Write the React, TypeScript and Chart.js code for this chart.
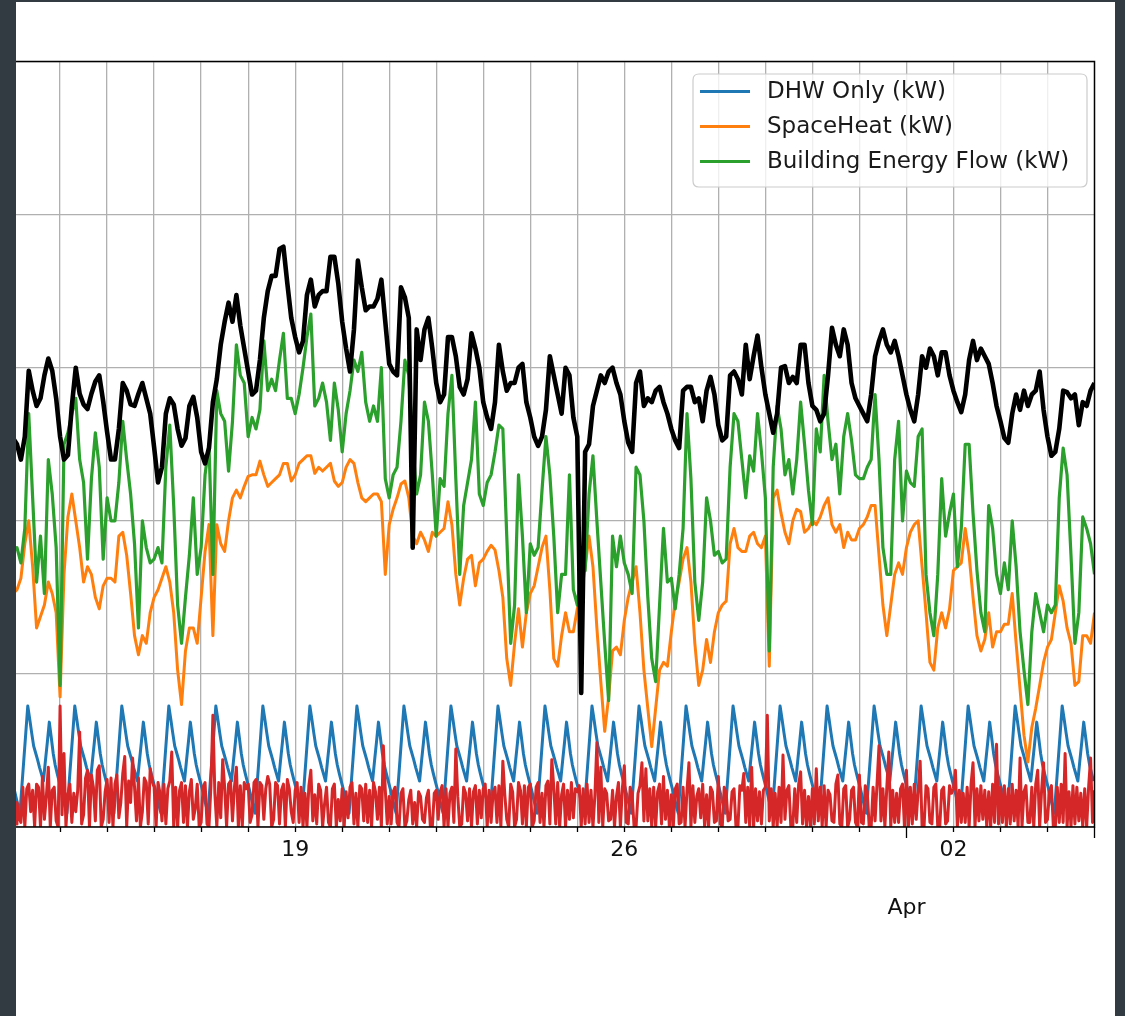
import { useEffect, useRef } from "react";
import { Chart, registerables } from "chart.js";

Chart.register(...registerables);

// ---- x axis (hours since 13 Mar 00:00) ----
const X_MIN = 1.5;
const X_MAX = 552;
const dayTickHours = [24, 48, 72, 96, 120, 144, 168, 192, 216, 240, 264, 288, 312, 336, 360, 384, 408, 432, 456, 480, 504, 528];
const weekTickHours = [144, 312, 480];
const weekTickLabels = ["19", "26", "02"];
const monthTickHours = [456];
const monthTickLabels = ["Apr"];
const edgeTickHours = [552];

// ---- y axis ----
const Y_MIN = 0;
const Y_MAX = 50;
const Y_STEP = 10;

// ---- series sampling ----
const TWO_HOUR_START = 0;
const TWO_HOUR_STEP = 2;
const HOURLY_START = 0;
const DHW_START = 0.5;
const HOURLY_STEP = 1;

// legend labels
const legendLabels = ["DHW Only (kW)", "SpaceHeat (kW)", "Building Energy Flow (kW)"];

// DHW Only (kW), hourly from 00:30
const dhwKw = [
  2.5, 1.95, 1.4, 0.9, 2.65, 4.4, 6.15, 7.9, 7.05, 6.15, 5.3, 4.85, 4.4, 3.9, 3.45, 3.0, 4.3, 5.55, 6.85, 5.85, 4.8, 4.05, 3.5, 3.0,
  2.5, 1.95, 1.4, 0.9, 2.65, 4.4, 6.15, 7.9, 7.05, 6.15, 5.3, 4.85, 4.4, 3.9, 3.45, 3.0, 4.3, 5.55, 6.85, 5.85, 4.8, 4.05, 3.5, 3.0,
  2.5, 1.95, 1.4, 0.9, 2.65, 4.4, 6.15, 7.9, 7.05, 6.15, 5.3, 4.85, 4.4, 3.9, 3.45, 3.0, 4.3, 5.55, 6.85, 5.85, 4.8, 4.05, 3.5, 3.0,
  2.5, 1.95, 1.4, 0.9, 2.65, 4.4, 6.15, 7.9, 7.05, 6.15, 5.3, 4.85, 4.4, 3.9, 3.45, 3.0, 4.3, 5.55, 6.85, 5.85, 4.8, 4.05, 3.5, 3.0,
  2.5, 1.95, 1.4, 0.9, 2.65, 4.4, 6.15, 7.9, 7.05, 6.15, 5.3, 4.85, 4.4, 3.9, 3.45, 3.0, 4.3, 5.55, 6.85, 5.85, 4.8, 4.05, 3.5, 3.0,
  2.5, 1.95, 1.4, 0.9, 2.65, 4.4, 6.15, 7.9, 7.05, 6.15, 5.3, 4.85, 4.4, 3.9, 3.45, 3.0, 4.3, 5.55, 6.85, 5.85, 4.8, 4.05, 3.5, 3.0,
  2.5, 1.95, 1.4, 0.9, 2.65, 4.4, 6.15, 7.9, 7.05, 6.15, 5.3, 4.85, 4.4, 3.9, 3.45, 3.0, 4.3, 5.55, 6.85, 5.85, 4.8, 4.05, 3.5, 3.0,
  2.5, 1.95, 1.4, 0.9, 2.65, 4.4, 6.15, 7.9, 7.05, 6.15, 5.3, 4.85, 4.4, 3.9, 3.45, 3.0, 4.3, 5.55, 6.85, 5.85, 4.8, 4.05, 3.5, 3.0,
  2.5, 1.95, 1.4, 0.9, 2.65, 4.4, 6.15, 7.9, 7.05, 6.15, 5.3, 4.85, 4.4, 3.9, 3.45, 3.0, 4.3, 5.55, 6.85, 5.85, 4.8, 4.05, 3.5, 3.0,
  2.5, 1.95, 1.4, 0.9, 2.65, 4.4, 6.15, 7.9, 7.05, 6.15, 5.3, 4.85, 4.4, 3.9, 3.45, 3.0, 4.3, 5.55, 6.85, 5.85, 4.8, 4.05, 3.5, 3.0,
  2.5, 1.95, 1.4, 0.9, 2.65, 4.4, 6.15, 7.9, 7.05, 6.15, 5.3, 4.85, 4.4, 3.9, 3.45, 3.0, 4.3, 5.55, 6.85, 5.85, 4.8, 4.05, 3.5, 3.0,
  2.5, 1.95, 1.4, 0.9, 2.65, 4.4, 6.15, 7.9, 7.05, 6.15, 5.3, 4.85, 4.4, 3.9, 3.45, 3.0, 4.3, 5.55, 6.85, 5.85, 4.8, 4.05, 3.5, 3.0,
  2.5, 1.95, 1.4, 0.9, 2.65, 4.4, 6.15, 7.9, 7.05, 6.15, 5.3, 4.85, 4.4, 3.9, 3.45, 3.0, 4.3, 5.55, 6.85, 5.85, 4.8, 4.05, 3.5, 3.0,
  2.5, 1.95, 1.4, 0.9, 2.65, 4.4, 6.15, 7.9, 7.05, 6.15, 5.3, 4.85, 4.4, 3.9, 3.45, 3.0, 4.3, 5.55, 6.85, 5.85, 4.8, 4.05, 3.5, 3.0,
  2.5, 1.95, 1.4, 0.9, 2.65, 4.4, 6.15, 7.9, 7.05, 6.15, 5.3, 4.85, 4.4, 3.9, 3.45, 3.0, 4.3, 5.55, 6.85, 5.85, 4.8, 4.05, 3.5, 3.0,
  2.5, 1.95, 1.4, 0.9, 2.65, 4.4, 6.15, 7.9, 7.05, 6.15, 5.3, 4.85, 4.4, 3.9, 3.45, 3.0, 4.3, 5.55, 6.85, 5.85, 4.8, 4.05, 3.5, 3.0,
  2.5, 1.95, 1.4, 0.9, 2.65, 4.4, 6.15, 7.9, 7.05, 6.15, 5.3, 4.85, 4.4, 3.9, 3.45, 3.0, 4.3, 5.55, 6.85, 5.85, 4.8, 4.05, 3.5, 3.0,
  2.5, 1.95, 1.4, 0.9, 2.65, 4.4, 6.15, 7.9, 7.05, 6.15, 5.3, 4.85, 4.4, 3.9, 3.45, 3.0, 4.3, 5.55, 6.85, 5.85, 4.8, 4.05, 3.5, 3.0,
  2.5, 1.95, 1.4, 0.9, 2.65, 4.4, 6.15, 7.9, 7.05, 6.15, 5.3, 4.85, 4.4, 3.9, 3.45, 3.0, 4.3, 5.55, 6.85, 5.85, 4.8, 4.05, 3.5, 3.0,
  2.5, 1.95, 1.4, 0.9, 2.65, 4.4, 6.15, 7.9, 7.05, 6.15, 5.3, 4.85, 4.4, 3.9, 3.45, 3.0, 4.3, 5.55, 6.85, 5.85, 4.8, 4.05, 3.5, 3.0,
  2.5, 1.95, 1.4, 0.9, 2.65, 4.4, 6.15, 7.9, 7.05, 6.15, 5.3, 4.85, 4.4, 3.9, 3.45, 3.0, 4.3, 5.55, 6.85, 5.85, 4.8, 4.05, 3.5, 3.0,
  2.5, 1.95, 1.4, 0.9, 2.65, 4.4, 6.15, 7.9, 7.05, 6.15, 5.3, 4.85, 4.4, 3.9, 3.45, 3.0, 4.3, 5.55, 6.85, 5.85, 4.8, 4.05, 3.5, 3.0,
  2.5, 1.95, 1.4, 0.9, 2.65, 4.4, 6.15, 7.9, 7.05, 6.15, 5.3, 4.85, 4.4, 3.9, 3.45, 3.0, 4.3, 5.55, 6.85, 5.85, 4.8, 4.05, 3.5, 3.0,
];

// SpaceHeat (kW), every 2 h from 00:00
const spaceHeatKw = [
  15.25, 15.5, 16.25, 18.5, 20.0, 17.0, 13.0, 13.75, 14.5, 16.0, 15.25, 14.0,
  8.5, 16.5, 20.25, 21.75, 20.0, 18.25, 16.0, 17.0, 16.5, 15.0, 14.25, 15.75,
  16.25, 16.25, 16.0, 19.0, 19.25, 17.75, 15.25, 12.5, 11.25, 12.5, 12.0, 14.0,
  15.0, 15.5, 16.25, 17.0, 16.0, 14.0, 10.25, 8.0, 11.5, 13.0, 13.0,
  12.0, 15.0, 18.0, 19.75, 12.5, 19.75, 18.5, 18.0, 20.0, 21.5, 22.0, 21.5, 22.25, 22.9, 23.0, 23.0,
  23.9, 23.0, 22.25, 22.5, 22.75, 23.0, 23.75, 23.75, 22.6, 23.0, 23.75, 24.0, 24.25, 24.25, 23.1,
  23.5, 23.25, 23.5, 23.75, 22.6, 22.25, 22.5, 23.5, 24.0, 23.75, 22.5, 21.5, 21.25, 21.5, 21.75,
  21.75, 21.25, 16.5, 19.75, 20.75, 21.5, 22.4, 22.6, 21.5, 19.0, 18.5, 19.25, 18.75, 18.0, 19.25,
  19.0, 19.25, 19.5, 21.25, 19.75, 16.5, 14.5, 16.25, 17.5, 17.75, 15.75, 17.25, 17.5, 18.0, 18.4,
  18.1, 16.75, 15.0, 11.0, 9.25, 12.0, 14.25, 11.75, 14.0, 15.25, 15.75, 17.0, 18.25, 19.0, 15.5, 11.0,
  10.5, 12.5, 14.0, 12.75, 12.75, 14.25, 15.25, 17.0, 19.0, 17.0, 13.0, 9.5, 6.25, 8.5, 11.5,
  11.75, 11.25, 13.5, 15.0, 16.0, 17.0, 14.0, 10.25, 7.75, 5.25, 7.75, 10.25, 10.75, 10.5, 12.75,
  14.75, 16.0, 17.5, 18.25, 16.0, 12.0, 9.25, 10.25, 12.25, 10.75, 12.75, 14.0, 14.5, 14.75, 18.5, 19.5,
  18.25, 18.0, 18.0, 19.0, 19.25, 18.5, 18.25, 19.0, 10.5, 21.5, 22.0, 20.5, 19.25, 18.5, 20.0,
  20.75, 20.6, 19.25, 19.5, 20.0, 19.75, 20.25, 21.0, 21.5, 19.75, 19.25, 19.75, 18.25, 19.25, 18.75,
  18.75, 19.5, 19.75, 20.25, 21.0, 21.0, 17.75, 14.5, 12.5, 14.5, 16.5, 17.25, 16.5, 18.25, 19.25, 19.75,
  20.0, 17.0, 14.0, 10.75, 10.25, 13.0, 14.0, 13.0, 14.25, 16.75, 17.0, 17.25, 19.5, 17.75, 15.0,
  12.5, 11.5, 12.25, 14.0, 11.75, 12.75, 12.75, 13.25, 13.25, 15.25, 12.0, 9.0, 6.0, 4.25, 6.5,
  7.75, 9.25, 10.75, 11.75, 12.25, 14.0, 15.75, 14.75, 13.0, 12.0, 9.25, 9.5, 12.5, 12.5, 12.0, 14.0,
];

// Building Energy Flow (kW), every 2 h from 00:00
const buildingFlowKw = [
  18.0, 18.25, 17.25, 19.5, 27.0, 21.5, 16.0, 19.0, 15.25, 24.0, 21.75, 18.25,
  9.25, 25.0, 25.75, 27.0, 28.0, 24.0, 22.5, 17.5, 22.75, 25.75, 23.5, 17.5,
  21.5, 20.0, 20.0, 22.5, 26.5, 24.0, 21.75, 18.5, 13.0, 20.0, 18.25, 17.25,
  17.5, 18.25, 17.25, 23.5, 26.25, 21.0, 14.5, 12.0, 15.0, 17.75, 21.5,
  16.5, 18.25, 23.0, 25.0, 16.5, 28.5, 27.0, 26.5, 23.25, 26.5, 31.5, 29.5, 29.0, 25.5, 26.75,
  26.0, 27.25, 31.75, 28.5, 29.25, 28.5, 30.5, 32.25, 28.0, 28.0, 27.0, 28.25, 30.0, 32.0, 33.5,
  27.5, 28.0, 29.0, 27.75, 25.25, 29.0, 27.25, 24.5, 27.0, 28.5, 30.5, 29.75, 31.0, 27.75, 26.5, 27.5,
  26.5, 30.0, 22.75, 21.5, 23.0, 23.5, 26.5, 30.5, 29.5, 25.0, 21.75, 23.0, 27.75, 26.5, 23.0,
  19.0, 22.75, 22.25, 27.0, 29.5, 22.75, 16.5, 21.0, 22.5, 24.0, 27.75, 21.75, 21.0, 22.5, 23.0,
  24.5, 26.25, 26.0, 19.0, 12.0, 14.5, 23.0, 19.0, 14.0, 18.5, 17.75, 18.25, 22.0, 25.5, 23.0, 19.0,
  14.0, 16.5, 16.5, 23.0, 15.5, 14.5, 16.75, 16.75, 21.75, 24.25, 20.0, 16.0, 12.0, 8.25, 19.0,
  17.0, 19.0, 17.25, 16.5, 15.25, 23.5, 23.0, 20.0, 15.0, 11.0, 9.5, 14.5, 19.5, 16.0, 16.25,
  14.25, 16.5, 19.5, 27.0, 22.75, 16.0, 13.5, 16.0, 21.5, 20.0, 17.75, 18.0, 17.25, 17.5, 23.5, 27.0,
  26.5, 24.0, 21.5, 24.25, 23.25, 27.0, 24.5, 21.5, 11.5, 23.5, 27.5, 26.0, 23.0, 24.0, 21.75,
  24.0, 27.75, 25.0, 22.0, 19.75, 26.0, 24.5, 29.5, 26.5, 24.0, 25.0, 21.75, 25.5, 27.0, 25.25,
  23.0, 22.75, 22.75, 23.5, 24.0, 28.25, 24.0, 18.25, 16.5, 16.5, 24.0, 26.5, 20.0, 23.25, 22.5, 22.25,
  25.5, 26.0, 16.5, 14.0, 12.5, 16.5, 22.75, 19.0, 20.5, 21.75, 17.0, 19.5, 25.0, 25.0, 20.5,
  16.75, 14.0, 12.75, 21.0, 19.5, 16.5, 15.25, 17.25, 15.5, 20.0, 17.0, 12.75, 10.25, 8.0, 12.75,
  15.25, 14.0, 12.75, 14.5, 14.0, 14.5, 21.5, 24.75, 23.0, 17.75, 12.0, 14.0, 20.25, 19.5, 18.5, 16.5,
];

// unlabelled black series (kW), every 2 h from 00:00
const totalKw = [
  25.4, 25.0, 24.0, 25.5, 29.8, 28.5, 27.5, 28.0, 29.5, 30.6, 29.8, 28.0,
  25.5, 24.0, 24.3, 27.5, 30.0, 28.3, 27.6, 27.3, 28.3, 29.1, 29.5, 27.8,
  25.8, 24.0, 24.0, 26.0, 29.0, 28.5, 27.6, 27.5, 28.3, 29.0, 28.0, 27.0,
  24.8, 22.5, 23.5, 27.0, 28.0, 27.6, 26.0, 24.9, 25.4, 27.5, 28.1,
  26.75, 24.5, 23.75, 24.75, 27.75, 29.25, 31.5, 33.0, 34.25, 33.0, 34.75, 32.75, 31.25, 29.75, 28.25,
  28.5, 30.5, 33.25, 35.0, 36.0, 36.0, 37.75, 37.9, 35.5, 33.25, 32.0, 31.0, 31.75, 34.75, 35.75,
  34.0, 34.75, 35.0, 35.0, 37.25, 37.25, 35.5, 33.0, 31.25, 29.75, 32.5, 37.0, 35.25, 33.75, 34.0, 34.0,
  34.5, 35.75, 33.0, 30.25, 29.75, 29.5, 35.25, 34.6, 33.25, 18.25, 32.5, 30.5, 32.5, 33.25, 31.25,
  29.0, 27.75, 28.25, 32.0, 32.0, 30.75, 28.75, 28.25, 29.25, 32.25, 31.25, 30.0, 27.75, 26.75, 26.0,
  27.75, 31.5, 29.75, 28.5, 29.0, 29.0, 30.0, 30.25, 27.75, 26.75, 25.5, 24.9, 25.5, 27.25, 30.75, 29.5,
  28.25, 27.0, 30.0, 29.5, 26.75, 25.5, 8.75, 24.5, 25.0, 27.5, 28.5, 29.5, 29.0, 29.75, 30.0,
  29.0, 28.25, 26.5, 25.1, 24.5, 29.0, 29.75, 27.5, 28.0, 27.75, 28.5, 28.75, 27.75, 27.0, 26.0,
  25.25, 24.75, 28.5, 28.75, 28.75, 27.75, 28.0, 26.5, 28.5, 29.4, 28.25, 26.25, 25.25, 25.5, 29.5, 29.75,
  29.25, 28.25, 31.5, 29.25, 30.75, 32.1, 30.0, 28.25, 27.0, 25.75, 27.0, 30.0, 30.1, 29.0, 29.4,
  29.0, 31.5, 31.5, 29.0, 27.5, 27.25, 26.5, 27.0, 29.5, 32.6, 31.5, 30.75, 32.5, 31.5, 29.0,
  28.0, 27.5, 27.0, 26.5, 28.25, 30.75, 31.75, 32.5, 31.5, 31.0, 31.75, 30.75, 29.5, 28.25, 27.25, 26.5,
  28.25, 30.75, 30.0, 31.25, 30.75, 29.5, 31.0, 31.0, 29.5, 28.5, 27.75, 27.1, 28.25, 30.5, 31.75,
  30.5, 31.25, 30.75, 30.25, 29.0, 27.5, 26.5, 25.4, 25.1, 27.0, 28.25, 27.25, 28.5, 27.5, 28.25,
  28.5, 29.75, 27.25, 25.5, 24.25, 24.5, 26.0, 28.5, 28.4, 28.0, 28.25, 26.25, 27.75, 27.5, 28.5, 29.0,
];

// unlabelled red series (kW), hourly from 00:00
const otherKw = [
  2.4, 0.2, 1.6, 0.6, 0.3, 2.6, 0, 2.5, 2.8, 1.0, 2.4, 0, 2.8, 2.6, 0, 3.3, 0.5, 2.0, 3.9, 0, 2.4, 2.6, 0.4, 0,
  7.9, 0.8, 4.8, 0, 2.1, 2.8, 0.3, 2.2, 1.0, 2.4, 6.2, 0.2, 0.8, 3.2, 3.7, 0, 3.4, 2.6, 0.4, 3.7, 4.0, 0, 0.5, 2.3,
  3.1, 0.3, 3.2, 0, 2.8, 3.4, 0.6, 1.6, 3.5, 4.6, 0, 3.0, 1.6, 4.5, 2.6, 0.4, 3.2, 0, 1.0, 3.2, 2.9, 0.2, 3.8, 3.0,
  2.6, 0, 2.9, 2.2, 0.4, 2.8, 0.2, 2.5, 3.0, 4.9, 0, 2.6, 0, 2.4, 2.9, 0.3, 2.7, 0, 2.3, 3.1, 0.5, 1.2, 2.8, 0,
  0.3, 2.6, 2.9, 0.2, 0, 2.7, 7.3, 2.2, 0, 2.9, 0.6, 4.4, 2.6, 0, 2.8, 3.0, 0.4, 2.6, 3.9, 0, 2.7, 0, 2.9, 2.5,
  2.8, 0.3, 0.8, 2.9, 3.1, 0, 2.9, 2.7, 0.5, 2.5, 3.3, 2.8, 0, 0.5, 2.9, 2.7, 0.2, 2.4, 2.8, 0, 3.1, 2.5, 1.0, 0.3,
  2.4, 2.9, 0.3, 2.6, 0, 2.2, 0, 2.7, 3.7, 0.4, 2.1, 0.2, 2.8, 2.4, 0, 1.5, 2.6, 0.3, 0, 2.5, 2.8, 0, 1.8, 0.4,
  2.5, 0, 2.3, 0.6, 2.6, 2.9, 0.2, 2.2, 0, 2.7, 2.5, 0.4, 2.8, 0.3, 2.4, 0, 2.9, 2.3, 0.5, 2.6, 0, 5.3, 2.4, 0.2,
  2.0, 0.2, 2.3, 2.6, 0.3, 0, 2.2, 2.5, 0, 0.4, 1.8, 2.4, 0.2, 1.6, 0, 2.3, 2.0, 0.5, 0.3, 1.9, 2.4, 0, 0, 2.2,
  2.4, 0.5, 2.3, 2.7, 0, 2.5, 0, 2.2, 2.6, 0.3, 5.1, 2.0, 0, 0.2, 2.6, 2.2, 0.4, 2.5, 0, 2.3, 2.7, 0.2, 2.4, 0.6,
  2.5, 2.8, 0, 2.4, 0.3, 2.2, 2.6, 0.3, 2.7, 0, 4.3, 2.1, 0.5, 0, 2.8, 2.3, 0, 0.5, 2.9, 2.4, 0.2, 2.7, 0, 2.6,
  2.8, 0, 0.4, 2.6, 2.9, 0.3, 2.2, 0, 2.7, 3.0, 0.2, 4.4, 2.6, 0.2, 2.9, 0, 2.1, 2.8, 0, 2.4, 0.5, 2.9, 0.6, 2.5,
  2.3, 2.7, 0, 2.5, 0.2, 2.8, 0.3, 2.4, 0, 2.1, 5.5, 0.3, 3.9, 0, 2.5, 2.2, 0.4, 0.5, 2.4, 0, 2.0, 2.9, 0, 2.5,
  4.0, 0.3, 0.2, 2.6, 2.1, 0, 0, 2.2, 2.7, 4.2, 0.4, 3.8, 0.4, 2.5, 0, 2.6, 0, 2.3, 2.8, 0.2, 3.3, 0.5, 2.4, 0,
  2.1, 0, 2.5, 2.8, 0.2, 0.3, 2.6, 0, 2.4, 4.2, 0, 2.7, 0.3, 2.0, 2.5, 0.6, 2.8, 0, 2.1, 0, 2.6, 2.3, 0.3, 0.4,
  3.3, 0.2, 0, 2.6, 2.2, 0.4, 0.5, 2.3, 2.5, 0, 0, 2.7, 2.4, 3.5, 0.3, 2.6, 0, 3.9, 0, 2.5, 0.4, 2.3, 0.2, 2.4,
  2.6, 7.3, 0.4, 2.5, 0, 2.2, 0, 2.6, 0.3, 4.7, 0.5, 2.4, 2.7, 0, 0, 2.5, 0.3, 2.8, 3.6, 0.2, 2.4, 0, 2.0, 0,
  2.5, 0.2, 3.8, 0.4, 2.6, 0, 2.7, 0, 2.4, 2.1, 0.4, 0.3, 2.8, 3.4, 0.2, 0, 2.5, 2.7, 0, 0.5, 2.4, 2.6, 0.3, 0,
  3.4, 0.3, 0.2, 2.7, 2.3, 0, 0, 2.6, 0.4, 2.8, 5.3, 0.4, 2.5, 0, 2.6, 4.9, 0, 2.4, 0.3, 2.2, 0.3, 2.5, 2.8, 0,
  3.7, 0, 2.6, 0.2, 2.8, 0.5, 2.4, 4.3, 0, 0, 2.7, 2.5, 0.3, 0.2, 2.6, 2.8, 0, 0, 2.4, 2.6, 0.2, 0.4, 2.7, 2.2,
  2.5, 3.7, 0, 2.4, 0.3, 2.2, 0.3, 2.6, 0, 2.8, 4.2, 0, 2.5, 0.4, 2.7, 0.5, 2.4, 0, 2.3, 0, 2.8, 0.3, 5.4, 0.2,
  2.6, 0.3, 2.7, 0, 2.5, 0.2, 2.8, 0.4, 2.4, 0, 4.5, 0, 2.3, 2.7, 0.3, 0.3, 2.6, 0, 2.8, 3.7, 0, 2.4, 4.2, 0.3,
  0.5, 2.3, 2.7, 0, 0, 2.6, 0.3, 2.8, 0.3, 4.8, 0, 2.3, 0, 2.7, 0.2, 2.6, 0.4, 2.2, 0, 2.5, 0, 2.6, 4.5, 0.3,
  2.4,
];

const COLORS = {
  dhw: "#1f77b4",
  space: "#ff7f0e",
  flow: "#2ca02c",
  total: "#000000",
  other: "#d62728",
  grid: "#b0b0b0",
};
const FONT = "'DejaVu Sans', 'Liberation Sans', sans-serif";

function toPoints(values: number[], start: number, step: number) {
  return values.map((v, i) => ({ x: start + i * step, y: v }));
}

const overlayPlugin = {
  id: "mplOverlay",
  afterDraw(chart: any) {
    const { ctx, chartArea: a } = chart;
    const xs = chart.scales.x;
    ctx.save();
    // spines (top, right, bottom)
    ctx.strokeStyle = "#000";
    ctx.lineWidth = 1.5;
    ctx.beginPath();
    ctx.moveTo(a.left - 2, a.top);
    ctx.lineTo(a.right, a.top);
    ctx.lineTo(a.right, a.bottom);
    ctx.lineTo(a.left - 2, a.bottom);
    ctx.stroke();
    // tick marks
    ctx.lineWidth = 1.3;
    ctx.beginPath();
    dayTickHours.forEach((h) => {
      const px = Math.round(xs.getPixelForValue(h)) + 0.5;
      const len = monthTickHours.includes(h) ? 11 : 5;
      ctx.moveTo(px, a.bottom);
      ctx.lineTo(px, a.bottom + len);
    });
    edgeTickHours.forEach((h) => {
      const px = Math.min(xs.getPixelForValue(h), a.right);
      ctx.moveTo(px, a.bottom);
      ctx.lineTo(px, a.bottom + 11);
    });
    ctx.stroke();
    // month label
    ctx.fillStyle = "#111";
    ctx.font = `22px ${FONT}`;
    ctx.textAlign = "center";
    ctx.textBaseline = "alphabetic";
    monthTickHours.forEach((h, i) => {
      ctx.fillText(monthTickLabels[i], xs.getPixelForValue(h), a.bottom + 87);
    });
    // legend
    const bw = 394;
    const bh = 113;
    const bx = a.right - 7.5 - bw;
    const by = a.top + 12.5;
    const r = 6;
    ctx.beginPath();
    ctx.moveTo(bx + r, by);
    ctx.lineTo(bx + bw - r, by);
    ctx.quadraticCurveTo(bx + bw, by, bx + bw, by + r);
    ctx.lineTo(bx + bw, by + bh - r);
    ctx.quadraticCurveTo(bx + bw, by + bh, bx + bw - r, by + bh);
    ctx.lineTo(bx + r, by + bh);
    ctx.quadraticCurveTo(bx, by + bh, bx, by + bh - r);
    ctx.lineTo(bx, by + r);
    ctx.quadraticCurveTo(bx, by, bx + r, by);
    ctx.closePath();
    ctx.fillStyle = "rgba(255,255,255,0.8)";
    ctx.fill();
    ctx.strokeStyle = "#cccccc";
    ctx.lineWidth = 1.2;
    ctx.stroke();
    const legendColors = [COLORS.dhw, COLORS.space, COLORS.flow];
    ctx.textAlign = "left";
    ctx.textBaseline = "middle";
    ctx.font = `23px ${FONT}`;
    legendLabels.forEach((label, i) => {
      const ry = by + 17.5 + i * 35;
      ctx.strokeStyle = legendColors[i];
      ctx.lineWidth = 3;
      ctx.beginPath();
      ctx.moveTo(bx + 7, ry);
      ctx.lineTo(bx + 57, ry);
      ctx.stroke();
      ctx.fillStyle = "#1a1a1a";
      ctx.fillText(label, bx + 74, ry + 1);
    });
    ctx.restore();
  },
};

export default function App() {
  const canvasRef = useRef<HTMLCanvasElement | null>(null);

  useEffect(() => {
    const canvas = canvasRef.current;
    if (!canvas) return;
    const common = { pointRadius: 0, borderJoinStyle: "round" as const, clip: 0, fill: false, tension: 0 };
    const chart = new Chart(canvas, {
      type: "line",
      data: {
        datasets: [
          { ...common, label: legendLabels[0], data: toPoints(dhwKw, DHW_START, HOURLY_STEP), borderColor: COLORS.dhw, borderWidth: 3, order: 5 },
          { ...common, label: legendLabels[1], data: toPoints(spaceHeatKw, TWO_HOUR_START, TWO_HOUR_STEP), borderColor: COLORS.space, borderWidth: 3, order: 4 },
          { ...common, label: legendLabels[2], data: toPoints(buildingFlowKw, TWO_HOUR_START, TWO_HOUR_STEP), borderColor: COLORS.flow, borderWidth: 3.2, order: 3 },
          { ...common, label: "_total", data: toPoints(totalKw, TWO_HOUR_START, TWO_HOUR_STEP), borderColor: COLORS.total, borderWidth: 4.6, order: 2 },
          { ...common, label: "_other", data: toPoints(otherKw, HOURLY_START, HOURLY_STEP), borderColor: COLORS.other, borderWidth: 3, order: 1 },
        ],
      },
      options: {
        animation: false,
        responsive: false,
        maintainAspectRatio: false,
        events: [],
        layout: { padding: { left: 0, right: 20.5, top: 59.5, bottom: 149 } },
        plugins: { legend: { display: false }, tooltip: { enabled: false } },
        scales: {
          x: {
            type: "linear",
            min: X_MIN,
            max: X_MAX,
            afterBuildTicks: (s: any) => {
              s.ticks = dayTickHours.map((v) => ({ value: v }));
            },
            afterFit: (s: any) => {
              s.height = 40;
            },
            grid: { color: COLORS.grid, lineWidth: 1.3, drawTicks: false },
            border: { display: false },
            ticks: {
              autoSkip: false,
              maxRotation: 0,
              padding: 10,
              color: "#111",
              font: { family: FONT, size: 22 },
              callback: (v: any) => {
                const i = weekTickHours.indexOf(Number(v));
                return i >= 0 ? weekTickLabels[i] : "";
              },
            },
          },
          y: {
            min: Y_MIN,
            max: Y_MAX,
            afterFit: (s: any) => {
              s.width = 0;
            },
            grid: { color: COLORS.grid, lineWidth: 1.3, drawTicks: false },
            border: { display: false },
            ticks: { display: false, stepSize: Y_STEP },
          },
        },
      },
      plugins: [overlayPlugin],
    } as any);
    return () => chart.destroy();
  }, []);

  return (
    <div style={{ position: "fixed", inset: 0, background: "#323a42" }}>
      <div style={{ position: "absolute", left: 16, top: 2, width: 1099, height: 1014, background: "#ffffff" }}>
        <canvas ref={canvasRef} width={1099} height={1014} style={{ display: "block", width: 1099, height: 1014 }} />
      </div>
    </div>
  );
}
